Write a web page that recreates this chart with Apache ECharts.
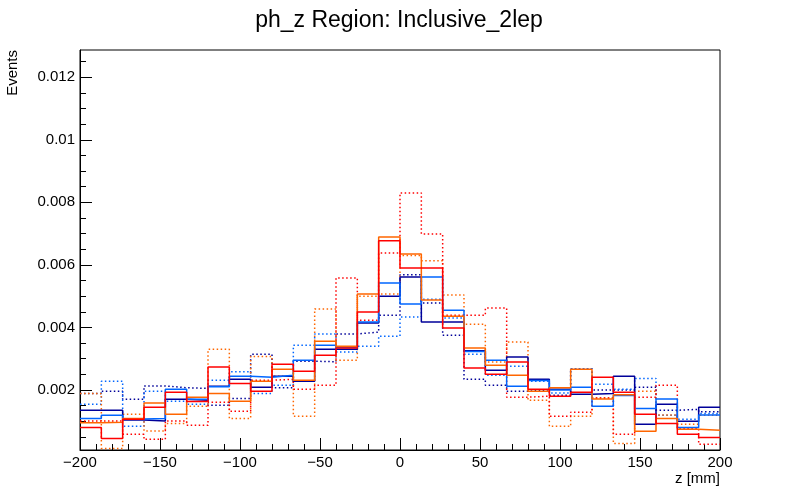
<!DOCTYPE html>
<html>
<head>
<meta charset="utf-8">
<script src="https://cdn.jsdelivr.net/npm/echarts@6.0.0/dist/echarts.min.js"></script>
<style>
  html, body { margin: 0; padding: 0; background: #ffffff; }
  #main { width: 800px; height: 500px; }
</style>
</head>
<body>
<div id="main"></div>
<script>
// binning of ph_z
const zMin = -200;
const zMax = 200;
const nBins = 30;

// axis ticks
const xTicks = [-200, -150, -100, -50, 0, 50, 100, 150, 200];
const yMajorTicks = [0.002, 0.004, 0.006, 0.008, 0.01, 0.012];
const yMinorTicks = [0.0005, 0.001, 0.0015, 0.0025, 0.003, 0.0035, 0.0045, 0.005, 0.0055,
  0.0065, 0.007, 0.0075, 0.0085, 0.009, 0.0095, 0.0105, 0.011, 0.0115, 0.0125];

// bin contents, one value per bin
const navySolid = [0.00135, 0.00135, 0.00104, 0.00101, 0.0017, 0.00167, 0.00212, 0.00234, 0.00209, 0.00244,
  0.00228, 0.0033, 0.0033, 0.00414, 0.005, 0.00561, 0.00417, 0.00417, 0.00325, 0.00263,
  0.00305, 0.00234, 0.00202, 0.00186, 0.00189, 0.00244, 0.0009, 0.00154, 0.0010, 0.00145];
const navyDot = [0.00189, 0.00196, 0.0017, 0.00213, 0.00207, 0.00205, 0.00151, 0.00173, 0.00314, 0.00207,
  0.00292, 0.0029, 0.00379, 0.00385, 0.00439, 0.00568, 0.00478, 0.00375, 0.00234, 0.00215,
  0.00196, 0.0020, 0.00183, 0.00268, 0.0020, 0.0020, 0.00209, 0.00135, 0.00138, 0.0013];
const blueSolid = [0.00109, 0.00119, 0.00107, 0.00109, 0.00202, 0.0017, 0.0021, 0.00244, 0.00241, 0.00247,
  0.00295, 0.00343, 0.00335, 0.00417, 0.00542, 0.00475, 0.00561, 0.00455, 0.00323, 0.00295,
  0.00212, 0.0023, 0.0020, 0.00209, 0.00148, 0.00182, 0.00141, 0.00171, 0.0008, 0.0012];
const blueDot = [0.00154, 0.00228, 0.00084, 0.00196, 0.00164, 0.00154, 0.00231, 0.00258, 0.00189, 0.00215,
  0.00343, 0.00379, 0.00321, 0.0034, 0.00372, 0.00433, 0.0049, 0.0043, 0.00314, 0.00247,
  0.00276, 0.00228, 0.0019, 0.00268, 0.00218, 0.00202, 0.00237, 0.00119, 0.00106, 0.00125];
const orangeSolid = [0.00095, 0.00097, 0.00109, 0.00158, 0.00122, 0.00177, 0.00189, 0.00164, 0.00228, 0.00266,
  0.00231, 0.00356, 0.0034, 0.00507, 0.00689, 0.00635, 0.00488, 0.00436, 0.00334, 0.00279,
  0.00247, 0.00196, 0.00207, 0.00266, 0.00171, 0.00185, 0.00068, 0.00109, 0.00074, 0.00071];
const orangeDot = [0.00189, 0.00013, 0.00122, 0.00069, 0.00093, 0.00148, 0.0033, 0.00109, 0.00307, 0.00244,
  0.00116, 0.00459, 0.00295, 0.0050, 0.00507, 0.0063, 0.00613, 0.00504, 0.0041, 0.00289,
  0.00353, 0.00167, 0.00084, 0.00116, 0.00174, 0.00029, 0.00196, 0.0012, 0.0009, 0.00119];
const redSolid = [0.0008, 0.00045, 0.00106, 0.00145, 0.00193, 0.00163, 0.00273, 0.00221, 0.00196, 0.00282,
  0.0026, 0.00311, 0.00334, 0.00449, 0.00677, 0.0059, 0.0059, 0.00398, 0.0027, 0.0025,
  0.00289, 0.00202, 0.0018, 0.00193, 0.00241, 0.00193, 0.00122, 0.00093, 0.00058, 0.00048];
const redDot = [0.00101, 0.00101, 0.00058, 0.00042, 0.00101, 0.00087, 0.00161, 0.00132, 0.00231, 0.00234,
  0.00202, 0.00215, 0.00558, 0.00423, 0.00638, 0.0083, 0.00699, 0.00439, 0.00439, 0.00462,
  0.00177, 0.0018, 0.00116, 0.00129, 0.00174, 0.00058, 0.00177, 0.00215, 0.00077, 0.00026];

const FONT = '"Liberation Sans", Arial, Helvetica, sans-serif';

// histogram -> step points: left edge of each bin, plus the right edge of the last one
function histPoints(vals) {
  var w = (zMax - zMin) / nBins;
  var pts = vals.map(function (v, i) { return [zMin + i * w, v]; });
  pts.push([zMax, vals[vals.length - 1]]);
  return pts;
}

function histSeries(name, vals, color, dotted) {
  return {
    name: name,
    type: 'line',
    step: 'end',
    data: histPoints(vals),
    showSymbol: false,
    symbol: 'none',
    clip: true,
    silent: true,
    lineStyle: {
      color: color,
      width: 1.5,
      type: dotted ? [1.5, 2.5] : 'solid'
    }
  };
}

function fmtY(v) {
  return String(parseFloat(v.toFixed(4)));
}

var chart = echarts.init(document.getElementById('main'), null, { renderer: 'canvas' });

var option = {
  backgroundColor: '#ffffff',
  animation: false,
  title: {
    text: 'ph_z Region: Inclusive_2lep',
    left: 394,
    top: 4,
    textAlign: 'center',
    textStyle: { fontFamily: FONT, fontSize: 23, fontWeight: 'normal', color: '#000' }
  },
  grid: {
    left: 80, right: 80, top: 50, bottom: 50,
    show: true, borderColor: '#000', borderWidth: 1, backgroundColor: 'transparent'
  },
  xAxis: {
    type: 'value',
    min: zMin, max: zMax, interval: 50,
    axisLine: { show: true, onZero: false, lineStyle: { color: '#000', width: 1 } },
    axisTick: { show: true, inside: true, length: 12, lineStyle: { color: '#000' } },
    minorTick: { show: true, splitNumber: 5, length: 6, lineStyle: { color: '#000' } },
    splitLine: { show: false },
    axisLabel: {
      margin: 5,
      fontFamily: FONT, fontSize: 15, color: '#000',
      customValues: xTicks,
      formatter: function (v) { return v < 0 ? '\u2212' + Math.abs(v) : String(v); }
    }
  },
  yAxis: [{
    type: 'value',
    position: 'left',
    min: 0.00008, max: 0.01287,
    axisLine: { show: true, onZero: false, lineStyle: { color: '#000', width: 1 } },
    axisTick: { show: true, inside: true, length: 12, customValues: yMajorTicks, lineStyle: { color: '#000' } },
    splitLine: { show: false },
    axisLabel: {
      margin: 5,
      fontFamily: FONT, fontSize: 15, color: '#000',
      customValues: yMajorTicks,
      formatter: fmtY
    }
  }, {
    type: 'value',
    position: 'left',
    offset: 0,
    min: 0.00008, max: 0.01287,
    axisLine: { show: false, onZero: false },
    axisTick: { show: true, inside: true, length: 6, customValues: yMinorTicks, lineStyle: { color: '#000' } },
    splitLine: { show: false },
    axisLabel: { show: false }
  }],
  graphic: [{
    type: 'text',
    x: 13, y: 50,
    rotation: Math.PI / 2,
    style: { text: 'Events', fontFamily: FONT, fontSize: 15, fill: '#000', align: 'right', verticalAlign: 'middle' }
  }, {
    type: 'text',
    x: 720, y: 479,
    style: { text: 'z [mm]', fontFamily: FONT, fontSize: 15, fill: '#000', align: 'right', verticalAlign: 'middle' }
  }],
  series: [
    histSeries('navy dotted', navyDot, '#000099', true),
    histSeries('blue dotted', blueDot, '#0066ff', true),
    histSeries('orange dotted', orangeDot, '#ff6600', true),
    histSeries('red dotted', redDot, '#ff0000', true),
    histSeries('navy', navySolid, '#000099', false),
    histSeries('blue', blueSolid, '#0066ff', false),
    histSeries('orange', orangeSolid, '#ff6600', false),
    histSeries('red', redSolid, '#ff0000', false)
  ]
};

chart.setOption(option);
</script>
</body>
</html>
